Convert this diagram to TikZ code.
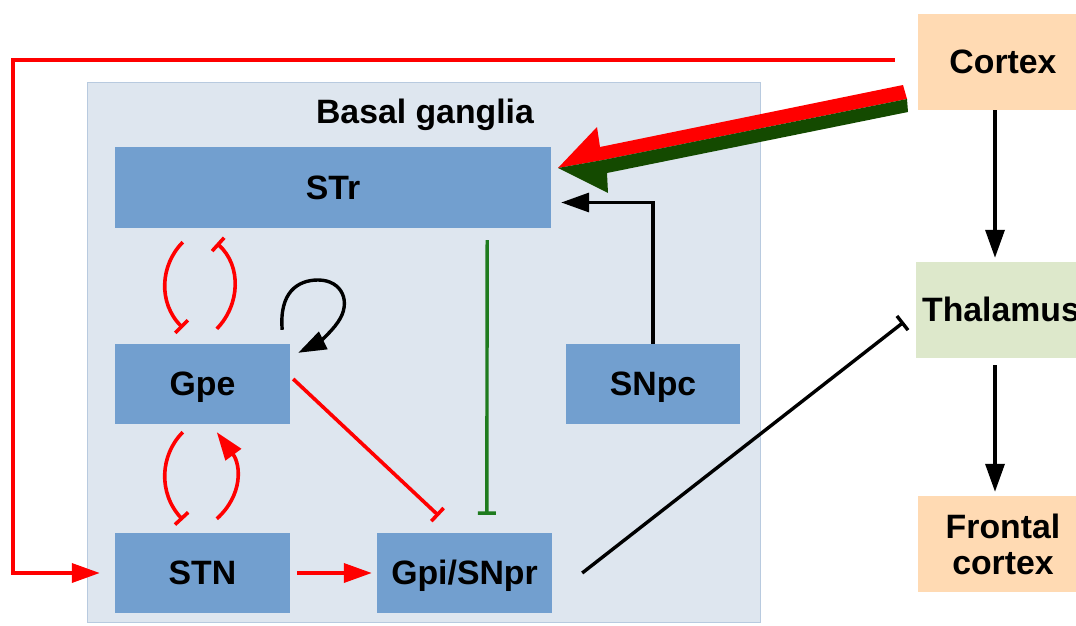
\documentclass[tikz,border=0pt]{standalone}
\usepackage{fontspec}
\setmainfont{Liberation Sans}
\usetikzlibrary{arrows.meta,calc}
\definecolor{boxblue}{HTML}{729FCF}
\definecolor{panelbg}{HTML}{DEE6EF}
\definecolor{panelline}{HTML}{B8CADF}
\definecolor{peach}{HTML}{FFDAB3}
\definecolor{lgreen}{HTML}{DDE8CB}
\definecolor{dkgreen}{HTML}{144A00}
\definecolor{tgreen}{HTML}{1E7B1E}
\definecolor{myred}{HTML}{FF0000}
\begin{document}
\begin{tikzpicture}[x=1pt,y=-1pt,
  lblfont/.style={font=\bfseries\fontsize{33.8}{36}\selectfont},
  box/.style={lblfont, fill=boxblue, draw=none, inner sep=0pt,
    minimum height=80pt, minimum width=175pt, text height=23.5pt, text depth=0pt},
  outbox/.style={lblfont, draw=none, inner sep=0pt, minimum height=96pt,
    minimum width=170pt},
  redl/.style={draw=myred, line width=3.6pt},
  blkl/.style={draw=black, line width=3.4pt},
  grnl/.style={draw=tgreen, line width=3.4pt},
  arr/.style={-{Triangle[length=28pt,width=19pt]}},
  tee/.style={-{Bar[width=18pt]}}
]
\useasboundingbox (0,0) rectangle (1076,626);
% panel
\node[fill=panelbg, draw=panelline, line width=0.8pt, inner sep=0pt,
  minimum width=673pt, minimum height=540pt] (BG) at (423.5,352) {};
\node[lblfont, anchor=base] (BGt) at (425,123) {Basal ganglia};
% boxes
\node[box, minimum width=436pt, minimum height=81pt] (STr) at (333,187.5) {STr};
\node[box] (Gpe) at (202.5,384) {Gpe};
\node[box, minimum width=174pt] (SNpc) at (653,384) {SNpc};
\node[box] (STN) at (202.5,573) {STN};
\node[box] (Gpi) at (464.5,573) {Gpi/SNpr};
\node[outbox, fill=peach, text height=23.5pt, text depth=0pt] (Cortex) at (1003,62) {Cortex};
\node[outbox, fill=lgreen, text height=23.5pt, text depth=0pt] (Thal) at (1001,310) {Thalamus};
\node[outbox, fill=peach, align=center] (Front) at (1003,544) {Frontal\\cortex};
% cortex -> STN
\coordinate (lc) at (13,60);
\draw[redl, arr] ($(Cortex.west)+(-23,-2)$) -- (lc) |- ($(STN.west)+(-15,0)$);
% big arrow
\fill[myred] (903,85) -- (600,147) -- (597,127) -- (558,168) -- (603,160) -- (907,99) -- cycle;
\fill[dkgreen] (907,99) -- (603,160) -- (558,168) -- (608,193) -- (607,173) -- (908,112) -- cycle;
% SNpc -> STr
\draw[blkl, arr] (SNpc.north) |- ($(STr.east)+(10,15)$);
% STr -| Gpi (green)
\draw[grnl, tee] ($(STr.south east)+(-64,12)$) -- ($(Gpi.north west)+(110,-18)$);
% Gpe -| Gpi (red)
\draw[redl, tee] ($(Gpe.east)+(3,-5)$) -- ($(Gpi.north west)+(62,-17)$);
% STN -> Gpi
\draw[redl, arr] ($(STN.east)+(7,0)$) -- ($(Gpi.west)+(-5,0)$);
% Gpi -| Thalamus
\draw[blkl, tee] ($(Gpi.east)+(30,0)$) -- ($(Thal.west)+(-12,12)$);
% cortex -> thalamus -> frontal
\draw[blkl, arr] ($(Cortex.south)+(-8,0)$) -- ($(Thal.north)+(-6,-4)$);
\draw[blkl, arr] ($(Thal.south)+(-6,7)$) -- ($(Front.north)+(-8,-4)$);
% Gpe self loop
\draw[blkl, arr] ($(Gpe.north east)+(-8,-14)$) .. controls (279,292) and (298,280) .. (318,280)
  .. controls (342,280) and (352,302) .. (338,322) .. controls (330,334) and (316,344) .. ($(Gpe.north east)+(8,9)$);
% STr <-> Gpe
\draw[redl, tee] ($(STr.south west)+(68,14)$) .. controls (160,265) and (158,303) .. ($(Gpe.north west)+(68,-16)$);
\draw[redl, tee] ($(Gpe.north west)+(102,-15)$) .. controls (240,305) and (242,266) .. ($(STr.south west)+(102,15)$);
% Gpe <-> STN
\draw[redl, tee] ($(Gpe.south west)+(68,8)$) .. controls (160,455) and (158,493) .. ($(STN.north west)+(68,-13)$);
\draw[redl, arr] ($(STN.north west)+(102,-14)$) .. controls (243,495) and (241,465) .. ($(Gpe.south west)+(102,8)$);
\end{tikzpicture}
\end{document}
